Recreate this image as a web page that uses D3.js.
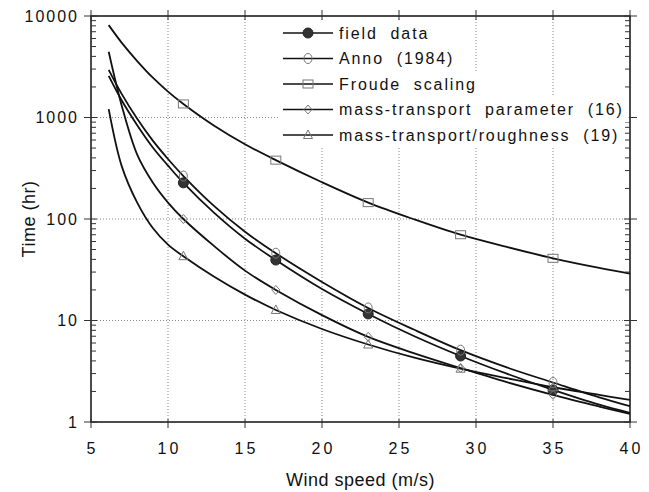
<!DOCTYPE html>
<html>
<head>
<meta charset="utf-8">
<script src="https://cdn.jsdelivr.net/npm/d3@7"></script>
<style>
  body { margin: 0; background: #fff; }
  text { font-family: "Liberation Sans", Arial, Helvetica, sans-serif; fill: #111; }
</style>
</head>
<body>
<script>
// wind speed (m/s) at which each curve is read
var speeds = [6.15, 7, 8, 9, 10, 11, 13, 15, 17, 20, 23, 26, 29, 32, 35, 38, 40];

// time (hr) for each series
var fieldData    = [2570, 1470, 840, 510, 336, 227, 115, 64, 39.4, 20.4, 11.6, 7.0, 4.47, 2.99, 2.07, 1.48, 1.23];
var anno         = [2950, 1700, 970, 595, 390, 265, 134, 75, 46, 24, 13.3, 8.1, 5.1, 3.45, 2.45, 1.75, 1.43];
var froude       = [8130, 5440, 3600, 2480, 1800, 1360, 830, 545, 380, 230, 145, 99, 70, 53, 41, 33, 29];
var massParam    = [4450, 1300, 430, 230, 145, 100, 54, 31, 20, 11.3, 6.9, 4.75, 3.4, 2.47, 1.85, 1.42, 1.2];
var roughness    = [1210, 330, 145, 82, 56, 43, 27, 18, 12.7, 8.25, 5.8, 4.3, 3.35, 2.7, 2.2, 1.85, 1.65];

// speeds where symbols are drawn
var markerSpeeds = [11, 17, 23, 29, 35];

var xTicks = [5, 10, 15, 20, 25, 30, 35, 40];
var yTicks = [1, 10, 100, 1000, 10000];

var seriesNames = ["field  data", "Anno  (1984)", "Froude  scaling",
                   "mass-transport  parameter  (16)", "mass-transport/roughness  (19)"];

var svgWidth = 649, svgHeight = 492;
var margin = {top: 16, right: 19, bottom: 70, left: 91};
var width = svgWidth - margin.left - margin.right;
var height = svgHeight - margin.top - margin.bottom;

var svg = d3.select("body").append("svg")
    .attr("width", svgWidth)
    .attr("height", svgHeight);

var chart = svg.append("g")
    .attr("transform", "translate(" + margin.left + "," + margin.top + ")");

var x = d3.scaleLinear().domain([5, 40]).range([0, width]);
var y = d3.scaleLog().domain([1, 10000]).range([height, 0]);

// dotted grid
chart.selectAll(".vgrid")
    .data(xTicks.slice(1, -1))
    .enter().append("line")
    .attr("x1", function(d) { return x(d); })
    .attr("x2", function(d) { return x(d); })
    .attr("y1", 0).attr("y2", height)
    .attr("stroke", "#888").attr("stroke-width", 1)
    .attr("stroke-dasharray", "1,2");

chart.selectAll(".hgrid")
    .data(yTicks.slice(1, -1))
    .enter().append("line")
    .attr("y1", function(d) { return y(d); })
    .attr("y2", function(d) { return y(d); })
    .attr("x1", 0).attr("x2", width)
    .attr("stroke", "#888").attr("stroke-width", 1)
    .attr("stroke-dasharray", "1,2");

// series
var series = [
  {name: seriesNames[0], values: fieldData, symbol: "dot"},
  {name: seriesNames[1], values: anno, symbol: "circle"},
  {name: seriesNames[2], values: froude, symbol: "rect"},
  {name: seriesNames[3], values: massParam, symbol: "diamond"},
  {name: seriesNames[4], values: roughness, symbol: "triangle"}
];

var line = d3.line()
    .x(function(d) { return x(d.s); })
    .y(function(d) { return y(d.t); })
    .curve(d3.curveCatmullRom.alpha(0.5));

chart.append("clipPath").attr("id", "clip")
  .append("rect").attr("width", width).attr("height", height);

var lines = chart.append("g").attr("clip-path", "url(#clip)");

series.forEach(function(sr) {
  var pts = speeds.map(function(s, i) { return {s: s, t: sr.values[i]}; });
  lines.append("path")
      .datum(pts)
      .attr("d", line)
      .attr("fill", "none")
      .attr("stroke", "#111")
      .attr("stroke-width", 1.8);
});

function drawSymbol(g, kind, cx, cy) {
  if (kind === "dot") {
    g.append("circle").attr("cx", cx).attr("cy", cy).attr("r", 5)
        .attr("fill", "#333").attr("stroke", "#222");
  } else if (kind === "circle") {
    g.append("ellipse").attr("cx", cx).attr("cy", cy).attr("rx", 4).attr("ry", 5)
        .attr("fill", "none").attr("stroke", "#777").attr("stroke-width", 1);
  } else if (kind === "rect") {
    g.append("rect").attr("x", cx - 5).attr("y", cy - 4).attr("width", 10).attr("height", 8)
        .attr("fill", "none").attr("stroke", "#777").attr("stroke-width", 1);
  } else if (kind === "diamond") {
    g.append("path")
        .attr("d", "M" + cx + "," + (cy - 4.5) + "L" + (cx + 4) + "," + cy + "L" + cx + "," + (cy + 4.5) + "L" + (cx - 4) + "," + cy + "Z")
        .attr("fill", "none").attr("stroke", "#777").attr("stroke-width", 1);
  } else {
    g.append("path")
        .attr("d", "M" + cx + "," + (cy - 5) + "L" + (cx + 4.5) + "," + (cy + 3.5) + "L" + (cx - 4.5) + "," + (cy + 3.5) + "Z")
        .attr("fill", "none").attr("stroke", "#777").attr("stroke-width", 1);
  }
}

var marks = chart.append("g");
series.forEach(function(sr) {
  speeds.forEach(function(s, i) {
    if (markerSpeeds.indexOf(s) >= 0) drawSymbol(marks, sr.symbol, x(s), y(sr.values[i]));
  });
});

// frame
chart.append("rect")
    .attr("width", width).attr("height", height)
    .attr("fill", "none").attr("stroke", "#111").attr("stroke-width", 1.5);

// x ticks, top and bottom
xTicks.forEach(function(d) {
  chart.append("line").attr("x1", x(d)).attr("x2", x(d))
      .attr("y1", height - 3).attr("y2", height + 6).attr("stroke", "#333");
  chart.append("line").attr("x1", x(d)).attr("x2", x(d))
      .attr("y1", -6).attr("y2", 4).attr("stroke", "#333");
});

// y ticks with log minors on both sides
var minor = [];
for (var dec = 1; dec < 10000; dec *= 10) {
  for (var k = 2; k <= 9; k++) minor.push(dec * k);
}
minor.forEach(function(d) {
  chart.append("line").attr("x1", 0).attr("x2", 5)
      .attr("y1", y(d)).attr("y2", y(d)).attr("stroke", "#333");
  chart.append("line").attr("x1", width - 5).attr("x2", width)
      .attr("y1", y(d)).attr("y2", y(d)).attr("stroke", "#333");
});
yTicks.forEach(function(d) {
  chart.append("line").attr("x1", -7).attr("x2", 6)
      .attr("y1", y(d)).attr("y2", y(d)).attr("stroke", "#333");
  chart.append("line").attr("x1", width - 6).attr("x2", width + 7)
      .attr("y1", y(d)).attr("y2", y(d)).attr("stroke", "#333");
});

// tick labels
chart.selectAll(".ylab")
    .data(yTicks)
    .enter().append("text")
    .attr("x", -12)
    .attr("y", function(d) { return y(d); })
    .attr("dy", "0.36em")
    .attr("text-anchor", "end")
    .style("font-size", "16px")
    .style("letter-spacing", "2px")
    .text(function(d) { return d; });

chart.selectAll(".xlab")
    .data(xTicks)
    .enter().append("text")
    .attr("x", function(d) { return x(d) + 1.5; })
    .attr("y", height + 32)
    .attr("text-anchor", "middle")
    .style("font-size", "16px")
    .style("letter-spacing", "3px")
    .text(function(d) { return d; });

// axis titles
svg.append("text")
    .attr("x", margin.left + width / 2)
    .attr("y", 486)
    .attr("text-anchor", "middle")
    .style("font-size", "18px")
    .style("letter-spacing", "0.5px")
    .text("Wind speed (m/s)");

svg.append("text")
    .attr("transform", "translate(35," + (margin.top + height / 2) + ") rotate(-90)")
    .attr("text-anchor", "middle")
    .style("font-size", "18px")
    .style("letter-spacing", "0.5px")
    .text("Time (hr)");

// legend
var legend = svg.append("g").attr("transform", "translate(283,33)");
var rowH = 25.5;
series.forEach(function(sr, i) {
  var row = legend.append("g").attr("transform", "translate(0," + (i * rowH) + ")");
  var bg = row.append("rect").attr("x", -3).attr("y", -rowH / 2)
      .attr("height", rowH).attr("fill", "#fff");
  row.append("line").attr("x1", 0).attr("x2", 50).attr("y1", 0).attr("y2", 0)
      .attr("stroke", "#111").attr("stroke-width", 1.6);
  drawSymbol(row, sr.symbol, 25, 0);
  var t = row.append("text")
      .attr("x", 56).attr("dy", "0.36em")
      .attr("xml:space", "preserve")
      .style("white-space", "pre")
      .style("font-size", "16px")
      .style("letter-spacing", "1.9px")
      .text(sr.name);
  bg.attr("width", 56 + t.node().getComputedTextLength() + 8);
});
</script>
</body>
</html>
